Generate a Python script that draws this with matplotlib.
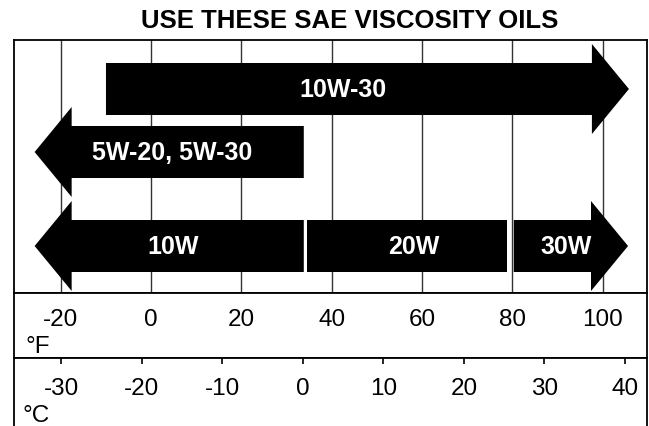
import matplotlib.pyplot as plt
from matplotlib.patches import Polygon

# oil ranges in degrees F (arrow tips for the open ends)
oils = ["10W-30", "5W-20, 5W-30", "10W", "20W", "30W"]
low_f = [-10, -25.8, -25.8, 34.5, 80.3]
high_f = [105.8, 33.8, 33.8, 78.9, 105.6]
heads = ["right", "left", "left", None, "right"]
rows = [0, 1, 2, 2, 2]
label_f = [42.4, 4.6, 4.9, 58.2, 91.8]

f_ticks = [-20, 0, 20, 40, 60, 80, 100]
c_ticks = [-30, -20, -10, 0, 10, 20, 30, 40]

# layout (chart area y is in pixels from the top of the box)
row_y = [49.3, 112.3, 206.3]
body = 26
head_h = 45
head_len = 8.2
f_lim = (-30.3, 109.8)
c_lim = (-35.84, 42.73)

plt.rcParams["font.family"] = ["Liberation Sans", "DejaVu Sans"]

fig = plt.figure(figsize=(6.49, 4.27), dpi=100)
left, width = 14.3 / 649, 632.7 / 649

ax = fig.add_axes([left, 133.2 / 427, width, 253.1 / 427])
axf = fig.add_axes([left, 68 / 427, width, 65.2 / 427])
axc = fig.add_axes([left, -4 / 427, width, 72 / 427])

ax.set_xlim(*f_lim)
ax.set_ylim(253.1, 0)
for x in f_ticks:
    ax.axvline(x, color="#333333", lw=1.0, zorder=1)


def arrow_poly(x0, x1, yc, head):
    lo, hi = yc - body, yc + body
    if head == "right":
        b = x1 - head_len
        pts = [(x0, lo), (b, lo), (b, yc - head_h), (x1, yc),
               (b, yc + head_h), (b, hi), (x0, hi)]
    elif head == "left":
        b = x0 + head_len
        pts = [(x1, lo), (b, lo), (b, yc - head_h), (x0, yc),
               (b, yc + head_h), (b, hi), (x1, hi)]
    else:
        pts = [(x0, lo), (x1, lo), (x1, hi), (x0, hi)]
    return Polygon(pts, closed=True, facecolor="black",
                   edgecolor="none", zorder=3)


for name, a, b, hd, r, lx in zip(oils, low_f, high_f, heads, rows, label_f):
    ax.add_patch(arrow_poly(a, b, row_y[r], hd))
    ax.text(lx, row_y[r], name, color="white", fontsize=18,
            fontweight="bold", ha="center", va="center", zorder=4)

for a in (ax, axf, axc):
    a.set_xticks([])
    a.set_yticks([])
    for s in a.spines.values():
        s.set_linewidth(1.3)
        s.set_color("black")

axf.set_xlim(*f_lim)
axf.set_ylim(0, 1)
for x in f_ticks:
    axf.text(x, 0.511, str(x), fontsize=17.5, ha="center", va="baseline")
axf.text(0.017, 0.092, "°F", transform=axf.transAxes, fontsize=17.5,
         ha="left", va="baseline")

axc.set_xlim(*c_lim)
axc.set_ylim(0, 1)
axc.spines["bottom"].set_visible(False)
axc.set_xticks(c_ticks)
axc.tick_params(axis="x", top=True, bottom=False, direction="in",
                length=4.5, width=1.2, labelbottom=False, labeltop=False)
for x in c_ticks:
    axc.text(x, 0.5, str(x), fontsize=17.5, ha="center", va="baseline")
axc.text(0.0137, 0.129, "°C", transform=axc.transAxes, fontsize=17.5,
         ha="left", va="baseline")

fig.text(349.5 / 649, 1 - 28.3 / 427, "USE THESE SAE VISCOSITY OILS",
         fontsize=18.5, fontweight="bold", ha="center", va="baseline")

fig.savefig("out.png", dpi=100)
